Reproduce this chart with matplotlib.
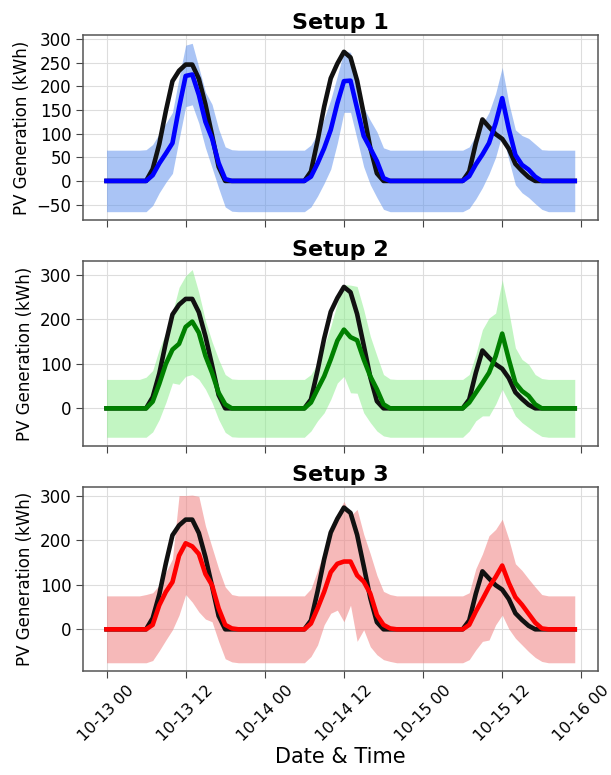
import matplotlib
matplotlib.use("Agg")
import matplotlib.pyplot as plt
import matplotlib.dates as mdates
from matplotlib.ticker import MultipleLocator
import pandas as pd

times = pd.date_range("2023-10-13 00:00", periods=72, freq="h")

actual = [0, 0, 0, 0, 0, 0, 0, 25, 78, 148, 211, 233, 246, 246, 216, 162, 97, 30, 0,
          0, 0, 0, 0, 0, 0, 0, 0, 0, 0, 0, 0,
          20, 85, 157, 217, 248, 273, 261, 212, 142, 70, 16, 0,
          0, 0, 0, 0, 0, 0, 0, 0, 0, 0, 0, 0,
          20, 80, 130, 114, 99, 89, 68, 36, 21, 8, 0,
          0, 0, 0, 0, 0, 0]

pred1 = [0, 0, 0, 0, 0, 0, 0, 12, 37, 58, 80, 155, 222, 225, 182, 125, 90, 38, 4,
         0, 0, 0, 0, 0, 0, 0, 0, 0, 0, 0, 0,
         9, 37, 69, 108, 164, 211, 212, 153, 95, 69, 42, 6,
         0, 0, 0, 0, 0, 0, 0, 0, 0, 0, 0, 0,
         10, 35, 56, 80, 122, 175, 110, 55, 34, 24, 9,
         0, 0, 0, 0, 0, 0]
upper1 = [65, 65, 65, 65, 65, 65, 66, 77, 100, 122, 145, 218, 287, 291, 240, 188, 162, 110, 72,
          66, 65, 65, 65, 65, 65, 65, 65, 65, 65, 65, 65,
          76, 100, 132, 172, 222, 274, 272, 210, 155, 128, 104, 70,
          65, 65, 65, 65, 65, 65, 65, 65, 65, 65, 65, 65,
          72, 96, 120, 145, 185, 240, 165, 108, 96, 90, 78,
          66, 65, 65, 65, 65, 65]
lower1 = [-65, -65, -65, -65, -65, -65, -65, -52, -25, -3, 16, 88, 157, 161, 122, 70, 28, -15, -55,
          -64, -65, -65, -65, -65, -65, -65, -65, -65, -65, -65, -65,
          -55, -32, -5, 25, 80, 145, 145, 88, 30, -8, -35, -60,
          -65, -65, -65, -65, -65, -65, -65, -65, -65, -65, -65, -65,
          -58, -38, -14, 15, 50, 100, 45, -8, -25, -35, -48,
          -60, -65, -65, -65, -65, -65]

pred2 = [0, 0, 0, 0, 0, 0, 0, 15, 55, 100, 132, 145, 183, 195, 170, 118, 80, 35, 9,
         0, 0, 0, 0, 0, 0, 0, 0, 0, 0, 0, 0,
         13, 43, 72, 110, 152, 177, 160, 153, 110, 72, 43, 9,
         0, 0, 0, 0, 0, 0, 0, 0, 0, 0, 0, 0,
         13, 35, 57, 80, 117, 168, 110, 57, 39, 28, 9,
         0, 0, 0, 0, 0, 0]
upper2 = [65, 65, 65, 65, 65, 65, 70, 85, 133, 170, 215, 272, 298, 312, 260, 197, 150, 110, 76,
          66, 65, 65, 65, 65, 65, 65, 65, 65, 65, 65, 65,
          76, 102, 140, 184, 237, 278, 277, 274, 222, 162, 118, 76,
          66, 65, 65, 65, 65, 65, 65, 65, 65, 65, 65, 65,
          76, 121, 177, 203, 214, 289, 218, 136, 110, 99, 76,
          67, 65, 65, 65, 65, 65]
lower2 = [-65, -65, -65, -65, -65, -65, -65, -53, -25, 13, 57, 54, 72, 76, 65, 43, 13, -25, -54,
          -64, -65, -65, -65, -65, -65, -65, -65, -65, -65, -65, -65,
          -51, -28, -10, 20, 57, 72, 35, 34, -10, -32, -51, -62,
          -65, -65, -65, -65, -65, -65, -65, -65, -65, -65, -65, -65,
          -51, -28, -17, -17, 9, 43, 14, -17, -32, -43, -54,
          -63, -65, -65, -65, -65, -65]

pred3 = [0, 0, 0, 0, 0, 0, 0, 10, 54, 84, 106, 165, 193, 186, 169, 124, 99, 47, 10,
         2, 0, 0, 0, 0, 0, 0, 0, 0, 0, 0, 0,
         13, 47, 84, 128, 147, 152, 152, 121, 107, 80, 32, 10,
         2, 0, 0, 0, 0, 0, 0, 0, 0, 0, 0, 0,
         10, 40, 67, 95, 117, 143, 104, 72, 55, 35, 15,
         2, 0, 0, 0, 0, 0]
upper3 = [75, 75, 75, 75, 75, 75, 78, 82, 99, 128, 158, 300, 300, 301, 298, 232, 184, 136, 95,
          78, 75, 75, 75, 75, 75, 75, 75, 75, 75, 75, 75,
          91, 132, 176, 217, 258, 287, 254, 269, 213, 169, 121, 85,
          78, 75, 75, 75, 75, 75, 75, 75, 75, 75, 75, 75,
          82, 136, 169, 210, 224, 247, 202, 147, 132, 113, 95,
          78, 75, 75, 75, 75, 75]
lower3 = [-75, -75, -75, -75, -75, -75, -75, -70, -48, -24, -1, 32, 78, 61, 39, 23, 17, -27, -66,
          -73, -75, -75, -75, -75, -75, -75, -75, -75, -75, -75, -75,
          -61, -35, 10, 36, 43, 17, 54, -27, -1, -39, -57, -68,
          -72, -75, -75, -75, -75, -75, -75, -75, -75, -75, -75, -75,
          -68, -46, -27, -24, 10, 32, 1, -20, -35, -50, -63,
          -72, -75, -75, -75, -75, -75]

titles = ["Setup 1", "Setup 2", "Setup 3"]
preds = [pred1, pred2, pred3]
uppers = [upper1, upper2, upper3]
lowers = [lower1, lower2, lower3]
line_colors = ["blue", "green", "red"]
band_colors = ["cornflowerblue", "lightgreen", "lightcoral"]
ytick_steps = [50, 100, 100]

fig = plt.figure(figsize=(6.11, 7.75), dpi=100)
positions = [(0.136, 0.716, 0.843, 0.239),
             (0.136, 0.425, 0.843, 0.238),
             (0.136, 0.134, 0.843, 0.238)]
axes = []
for i, pos in enumerate(positions):
    ax = fig.add_axes(pos, sharex=axes[0] if axes else None)
    axes.append(ax)
    ax.fill_between(times, lowers[i], uppers[i], color=band_colors[i], alpha=0.55, linewidth=0)
    ax.plot(times, actual, color="#111111", linewidth=3.3)
    ax.plot(times, preds[i], color=line_colors[i], linewidth=3.3)
    ax.set_title(titles[i], fontsize=16, fontweight="bold", pad=4)
    ax.set_ylabel("PV Generation (kWh)", fontsize=12)
    ax.yaxis.set_major_locator(MultipleLocator(ytick_steps[i]))
    ax.grid(True, color="#dddddd", linewidth=0.8)
    ax.set_axisbelow(True)
    ax.tick_params(axis="both", labelsize=12, length=5, color="#444444")
    for s in ax.spines.values():
        s.set_color("#555555")
        s.set_linewidth(1.1)
    if i < 2:
        ax.tick_params(axis="x", labelbottom=False)

axes[-1].xaxis.set_major_locator(mdates.HourLocator(byhour=[0, 12]))
axes[-1].xaxis.set_major_formatter(mdates.DateFormatter("%m-%d %H"))
for lbl in axes[-1].get_xticklabels():
    lbl.set_rotation(45)
    lbl.set_fontsize(11.5)
axes[-1].set_xlabel("Date & Time", fontsize=15, labelpad=2)

fig.savefig("out.png", dpi=100)
